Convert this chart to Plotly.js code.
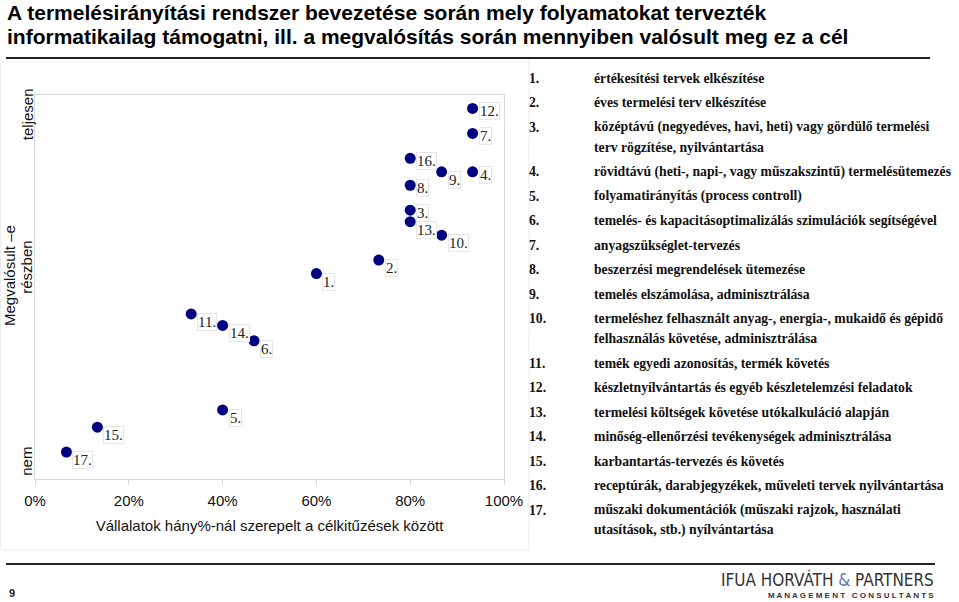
<!DOCTYPE html>
<html>
<head>
<meta charset="utf-8">
<script src="https://cdn.plot.ly/plotly-3.0.1.min.js"></script>
<style>
  body { margin: 0; background: #fff; }
  #chart { width: 959px; height: 602px; }
</style>
</head>
<body>
<div id="chart"></div>
<script>
// numbered processes (label on each point) and their scores
const pointLabels = ['1.', '2.', '3.', '4.', '5.', '6.', '7.', '8.', '9.', '10.',
                     '11.', '12.', '13.', '14.', '15.', '16.', '17.'];
// share of companies where the goal was set (%)
const shareValues = [60, 73.3, 80, 93.3, 40, 46.7, 93.3, 80, 86.7, 86.7,
                     33.3, 93.3, 80, 40, 13.3, 80, 6.7];
// how far it was achieved (1 = nem, 3 = teljesen)
const achievedValues = [2.07, 2.14, 2.4, 2.6, 1.36, 1.72, 2.8, 2.53, 2.6, 2.27,
                        1.86, 2.93, 2.34, 1.8, 1.27, 2.67, 1.14];

const xTickVals = [0, 20, 40, 60, 80, 100];
const xTickText = ['0%', '20%', '40%', '60%', '80%', '100%'];
const yTickText = ['nem', 'részben', 'teljesen'];
const yTickVals = [1.09, 2.1, 2.9];

const titleLines = [
  'A termelésirányítási rendszer bevezetése során mely folyamatokat tervezték',
  'informatikailag támogatni, ill. a megvalósítás során mennyiben valósult meg ez a cél'
];

const processNames = [
  'értékesítési tervek elkészítése',
  'éves termelési terv elkészítése',
  'középtávú (negyedéves, havi, heti) vagy gördülő termelési\nterv rögzítése, nyilvántartása',
  'rövidtávú (heti-, napi-, vagy műszakszintű) termelésütemezés',
  'folyamatirányítás (process controll)',
  'temelés- és kapacitásoptimalizálás szimulációk segítségével',
  'anyagszükséglet-tervezés',
  'beszerzési megrendelések ütemezése',
  'temelés elszámolása, adminisztrálása',
  'termeléshez felhasznált anyag-, energia-, mukaidő és gépidő\nfelhasználás követése, adminisztrálása',
  'temék egyedi azonosítás, termék követés',
  'készletnyílvántartás és egyéb készletelemzési feladatok',
  'termelési költségek követése utókalkuláció alapján',
  'minőség-ellenőrzési tevékenységek adminisztrálása',
  'karbantartás-tervezés és követés',
  'receptúrák, darabjegyzékek, műveleti tervek nyilvántartása',
  'műszaki dokumentációk (műszaki rajzok, használati\nutasítások, stb.) nyílvántartása'
];

// plot area in pixels
const plotL = 35, plotR = 504, plotT = 95, plotB = 479;
const W = 959, H = 602;
const px2x = px => (px - plotL) / (plotR - plotL);
const px2y = py => (plotB - py) / (plotB - plotT);

const sans = 'Liberation Sans, Arial, sans-serif';
const serif = 'Liberation Serif, Times New Roman, serif';

// label placement next to each point: 'mid' or 'low'
const labelPlacement = ['low', 'low', 'mid', 'mid', 'low', 'low', 'mid', 'mid', 'low', 'low',
                        'low', 'mid', 'low', 'low', 'low', 'mid', 'low'];

const annotations = [];

pointLabels.forEach((lab, i) => {
  annotations.push({
    x: shareValues[i], y: achievedValues[i], xref: 'x', yref: 'y',
    text: lab, showarrow: false, xanchor: 'left', yanchor: 'middle',
    xshift: 6, yshift: labelPlacement[i] === 'low' ? -8 : -3,
    font: { family: serif, size: 15, color: '#222' },
    bgcolor: 'rgba(255,255,255,0.9)', bordercolor: '#e6e6e6', borderwidth: 1, borderpad: 0
  });
});

// y tick labels (rotated)
yTickText.forEach((t, i) => {
  annotations.push({
    x: px2x(27), y: yTickVals[i], xref: 'paper', yref: 'y',
    text: t, showarrow: false, textangle: -90, xanchor: 'center', yanchor: 'middle',
    font: { family: sans, size: 15, color: '#111' }
  });
});

titleLines.forEach((t, i) => {
  annotations.push({
    x: px2x(5), y: px2y(13 + i * 24), xref: 'paper', yref: 'paper',
    text: '<b>' + t + '</b>', showarrow: false, xanchor: 'left', yanchor: 'middle',
    font: { family: sans, size: 21, color: '#000' }
  });
});

// numbered list on the right
let rowY = 78;
processNames.forEach((name, i) => {
  annotations.push({
    x: px2x(527), y: px2y(rowY), xref: 'paper', yref: 'paper',
    text: '<b>' + (i + 1) + '.</b>', showarrow: false, xanchor: 'left', yanchor: 'middle',
    font: { family: serif, size: 13.7, color: '#111' }
  });
  name.split('\n').forEach((line, j) => {
    if (j > 0) rowY += 20;
    annotations.push({
      x: px2x(592), y: px2y(rowY), xref: 'paper', yref: 'paper',
      text: '<b>' + line + '</b>', showarrow: false, xanchor: 'left', yanchor: 'middle',
      font: { family: serif, size: 13.7, color: '#111' }
    });
  });
  rowY += 24.5;
});

// y axis title
annotations.push({
  x: px2x(9), y: px2y(276), xref: 'paper', yref: 'paper',
  text: 'Megvalósult –e', showarrow: false, textangle: -90, xanchor: 'center', yanchor: 'middle',
  font: { family: sans, size: 15, color: '#111' }
});

// footer
annotations.push({
  x: px2x(12), y: px2y(593), xref: 'paper', yref: 'paper', xanchor: 'center', yanchor: 'middle',
  text: '<b>9</b>', showarrow: false,
  font: { family: sans, size: 11, color: '#222' }
});
annotations.push({
  x: px2x(936), y: px2y(579), xref: 'paper', yref: 'paper', xanchor: 'right', yanchor: 'middle',
  text: 'IFUA HORVÁTH <span style="color:#5a7bb5">&amp;</span> PARTNERS', showarrow: false,
  font: { family: 'DejaVu Sans Condensed, Liberation Sans, sans-serif', size: 17, color: '#333' }
});
annotations.push({
  x: px2x(936), y: px2y(595), xref: 'paper', yref: 'paper', xanchor: 'right', yanchor: 'middle',
  text: '<b>M A N A G E M E N T   C O N S U L T A N T S</b>', showarrow: false,
  font: { family: sans, size: 8, color: '#333' }
});

const shapes = [
  { type: 'line', xref: 'paper', yref: 'paper', x0: px2x(6), x1: px2x(930), y0: px2y(58), y1: px2y(58),
    line: { color: '#222', width: 2 } },
  { type: 'line', xref: 'paper', yref: 'paper', x0: px2x(6), x1: px2x(935), y0: px2y(564), y1: px2y(564),
    line: { color: '#222', width: 2 } },
  { type: 'rect', xref: 'paper', yref: 'paper', x0: px2x(0.5), x1: px2x(529), y0: px2y(62), y1: px2y(550),
    line: { color: '#ececec', width: 1 } }
];

const trace = {
  x: shareValues,
  y: achievedValues,
  mode: 'markers',
  type: 'scatter',
  marker: { color: '#000080', size: 11 },
  hoverinfo: 'x+y'
};

const layout = {
  width: W, height: H,
  margin: { l: plotL, r: W - plotR, t: plotT, b: H - plotB },
  paper_bgcolor: '#fff', plot_bgcolor: '#fff',
  showlegend: false,
  xaxis: {
    range: [0, 100], tickmode: 'array', tickvals: xTickVals, ticktext: xTickText,
    showline: true, mirror: true, linecolor: '#d9d9d9', linewidth: 1,
    ticks: 'outside', ticklen: 5, tickcolor: '#d9d9d9', ticklabelstandoff: 3,
    showgrid: false, zeroline: false,
    tickfont: { family: sans, size: 15, color: '#111' },
    title: { text: 'Vállalatok hány%-nál szerepelt a célkitűzések között', standoff: 12,
             font: { family: sans, size: 15, color: '#111' } },
    automargin: false
  },
  yaxis: {
    range: [1, 3], showticklabels: false,
    showline: true, mirror: true, linecolor: '#d9d9d9', linewidth: 1,
    ticks: '', showgrid: false, zeroline: false,
    automargin: false
  },
  annotations: annotations,
  shapes: shapes
};

Plotly.newPlot('chart', [trace], layout, { staticPlot: true });
</script>
</body>
</html>
